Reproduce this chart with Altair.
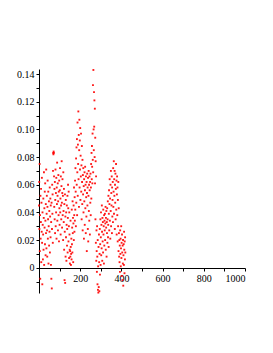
import altair as alt
import pandas as pd

# y values, one per x step (x = 0..419)
y_values = [
    0.045, 0.062, 0.028, 0.075, 0.012, 0.038, -0.008, 0.052, 0.021, 0.033,
    0.057, 0.004, 0.047, 0.026, 0.065, 0.018, -0.012, 0.040, 0.031, 0.006,
    0.024, 0.050, 0.013, 0.036, 0.069, 0.002, 0.043, 0.029, 0.055, 0.017,
    0.061, 0.034, 0.009, 0.046, 0.025, 0.071, 0.014, 0.039, 0.052, 0.027,
    0.008, 0.044, 0.063, 0.021, 0.035, 0.055, 0.003, 0.030, 0.048, 0.016,
    0.041, 0.026, 0.058, 0.011, 0.037, 0.050, 0.022, 0.045, 0.002, 0.033,
    -0.008, 0.047, -0.015, 0.028, 0.060, 0.039, 0.053, 0.018, 0.070, 0.083,
    0.082, 0.084, 0.083, 0.066, 0.044, 0.057, 0.035, 0.062, 0.025, 0.049,
    0.071, 0.030, 0.054, 0.040, 0.065, 0.021, 0.058, 0.046, 0.076, 0.034,
    0.052, 0.061, 0.027, 0.048, 0.067, 0.038, 0.055, 0.019, 0.063, 0.043,
    0.031, 0.056, 0.072, 0.040, 0.050, 0.024, 0.066, 0.045, 0.035, 0.059,
    0.077, 0.047, 0.029, 0.054, 0.064, 0.038, 0.052, 0.020, 0.069, 0.041,
    0.033, 0.057, 0.013, 0.046, -0.009, 0.026, 0.053, -0.011, 0.037, 0.008,
    0.049, 0.022, 0.040, 0.005, 0.031, 0.045, 0.016, 0.028, 0.052, 0.011,
    0.036, 0.060, 0.043, 0.019, 0.055, 0.030, 0.007, 0.040, 0.024, 0.013,
    0.003, 0.012, 0.008, 0.034, 0.015, 0.002, 0.010, 0.021, 0.006, 0.042,
    0.017, 0.029, 0.011, 0.048, 0.025, 0.036, 0.004, 0.032, 0.045, 0.020,
    0.058, 0.038, 0.026, 0.051, 0.034, 0.063, 0.042, 0.072, 0.055, 0.030,
    0.079, 0.047, 0.087, 0.060, 0.093, 0.038, 0.069, 0.105, 0.052, 0.089,
    0.075, 0.113, 0.064, 0.096, 0.044, 0.085, 0.107, 0.058, 0.092, 0.071,
    0.101, 0.049, 0.081, 0.066, 0.097, 0.055, 0.074, 0.035, 0.088, 0.062,
    0.046, 0.078, 0.027, 0.067, 0.053, 0.072, 0.040, 0.059, 0.021, 0.064,
    0.048, 0.069, 0.031, 0.056, 0.073, 0.043, 0.060, 0.025, 0.066, 0.051,
    0.037, 0.062, 0.012, 0.054, 0.068, 0.045, 0.058, 0.028, 0.065, 0.019,
    0.052, 0.070, 0.041, 0.060, 0.034, 0.066, 0.056, 0.024, 0.062, 0.047,
    0.068, 0.038, 0.058, 0.075, 0.050, 0.083, 0.064, 0.088, 0.073, 0.061,
    0.097, 0.078, 0.132, 0.069, 0.143, 0.100, 0.085, 0.127, 0.102, 0.121,
    0.080, 0.115, 0.061, 0.094, 0.035, 0.077, 0.018, 0.066, 0.005, 0.027,
    0.012, -0.003, 0.030, 0.008, -0.012, 0.020, -0.016, 0.001, -0.018, 0.015,
    -0.014, 0.024, 0.004, -0.017, 0.010, 0.028, -0.005, 0.017, 0.035, 0.002,
    0.022, 0.040, 0.009, 0.031, 0.014, 0.045, 0.026, 0.005, 0.036, 0.019,
    0.033, 0.011, 0.042, 0.024, 0.030, 0.003, 0.038, 0.016, 0.034, 0.027,
    0.039, 0.020, 0.032, 0.044, 0.013, 0.036, 0.029, 0.041, 0.008, 0.033,
    0.025, 0.043, 0.018, 0.035, 0.048, 0.022, 0.031, 0.052, 0.015, 0.039,
    0.056, 0.027, 0.046, 0.064, 0.034, 0.050, 0.021, 0.060, 0.041, 0.070,
    0.030, 0.054, 0.045, 0.066, 0.025, 0.058, 0.037, 0.049, 0.062, 0.033,
    0.072, 0.044, 0.055, 0.077, 0.039, 0.064, 0.052, 0.070, 0.028, 0.060,
    0.047, 0.068, 0.035, 0.057, 0.075, 0.042, 0.063, 0.024, 0.053, 0.066,
    0.038, 0.058, 0.019, 0.049, 0.030, 0.062, 0.012, 0.043, 0.025, 0.008,
    0.020, 0.004, 0.016, -0.003, 0.027, 0.010, 0.021, 0.001, 0.014, 0.030,
    0.007, 0.018, -0.006, 0.024, 0.011, -0.009, 0.016, 0.003, 0.020, -0.013,
    0.009, 0.017, 0.002, 0.026, 0.013, -0.004, 0.019, 0.006, 0.022, 0.011,
]
x_values = list(range(len(y_values)))

x_ticks = [100, 200, 300, 400, 500, 600, 700, 800, 900, 1000]
y_ticks = [-0.01, 0.0, 0.01, 0.02, 0.03, 0.04, 0.05, 0.06, 0.07,
           0.08, 0.09, 0.10, 0.11, 0.12, 0.13, 0.14]

df = pd.DataFrame({"x": x_values, "y": y_values})

chart = alt.Chart(df).mark_square(size=3.5, color="#ff0000", opacity=0.9).encode(
    x=alt.X("x:Q", title=None,
            scale=alt.Scale(domain=[0, 1000], nice=False, zero=False),
            axis=alt.Axis(values=x_ticks, offset=-25, grid=False,
                          domainColor="black", tickColor="black", tickSize=3,
                          labelExpr="datum.value % 200 == 0 ? format(datum.value, 'd') : ''",
                          labelFont="Liberation Serif", labelFontSize=10,
                          labelColor="black", labelPadding=2)),
    y=alt.Y("y:Q", title=None,
            scale=alt.Scale(domain=[-0.0183, 0.1437], nice=False, zero=False),
            axis=alt.Axis(values=y_ticks, grid=False,
                          domainColor="black", tickColor="black", tickSize=3,
                          labelExpr="abs(datum.value) < 1e-9 ? '0' : (datum.value > 0 && round(datum.value*100) % 2 == 0 ? format(datum.value, '.2f') : '')",
                          labelFont="Liberation Serif", labelFontSize=10,
                          labelColor="black", labelPadding=2)),
).properties(
    width=206, height=224,
    autosize=alt.AutoSizeParams(type="none"),
    padding={"left": 31, "top": 61, "right": 20, "bottom": 50},
).configure_view(stroke=None)

chart.save("out.html", embed_options={"renderer": "svg", "actions": False})
